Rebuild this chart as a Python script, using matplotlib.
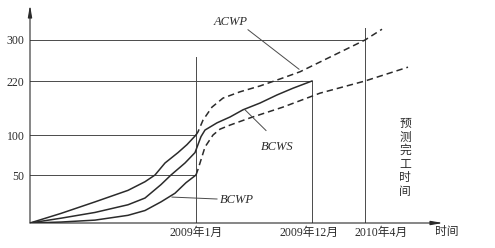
import numpy as np
import matplotlib
matplotlib.use("Agg")
import matplotlib.pyplot as plt

# ---------------- data (schematic S-curves) ----------------
# time axis in abstract units from project start
tick_times = [166, 282, 335]
tick_labels = ["2009年1月", "2009年12月", "2010年4月"]
y_ticks = [50, 100, 220, 300]

acwp_t = [0, 31, 65, 98, 115, 125, 135, 148, 157, 166]
acwp_v = [0, 10, 22, 34, 43, 50, 65, 78, 88, 100]
acwp_fc_t = [166, 168, 173, 182, 193, 210, 230, 253, 270, 335, 352]
acwp_fc_v = [100, 107, 133, 162, 182, 196, 209, 226, 238, 300, 321]

bcws_t = [0, 31, 65, 98, 115, 131, 141, 155, 165, 168, 171, 175, 187,
          200, 213, 230, 247, 263, 282]
bcws_v = [0, 5, 11, 19, 26, 40, 50, 65, 78, 88, 98, 111, 127,
          140, 156, 171, 189, 204, 220]

bcwp_t = [0, 31, 65, 98, 115, 131, 145, 156, 166]
bcwp_v = [0, 1, 3, 8, 13, 22, 31, 42, 50]
bcwp_fc_t = [166, 168, 170, 175, 183, 190, 200, 220, 253, 290, 335, 378]
bcwp_fc_v = [50, 57, 65, 85, 100, 113, 122, 138, 162, 193, 220, 247]

# ---------------- schematic (non-linear) value axis ----------------
V = np.array([-100, 0, 50, 100, 220, 300, 600])
H = np.array([-96, 0, 48, 88, 142, 183, 336.75])

def fwd(v):
    return np.interp(v, V, H)

def inv(h):
    return np.interp(h, H, V)

ink = "#2b2b2b"
grid = "#4a4a4a"
serif = ["Liberation Serif", "Noto Sans CJK SC"]
cjk = ["Noto Sans CJK SC", "DejaVu Sans"]

fig = plt.figure(figsize=(4.95, 2.48), dpi=100)
ax = fig.add_axes([30 / 495, 25 / 248, 413 / 495, 218 / 248])
ax.set_yscale("function", functions=(fwd, inv))
ax.set_xlim(0, 413)
ytop = float(inv(218))
ax.set_ylim(0, ytop)
for s in ax.spines.values():
    s.set_visible(False)

# axes with arrows
ax.annotate("", xy=(1, 0), xytext=(0, 0), xycoords="axes fraction",
            arrowprops=dict(arrowstyle="-|>,head_length=0.7,head_width=0.12",
                            lw=0.8, color=ink, shrinkA=0, shrinkB=0))
ax.annotate("", xy=(0, 1), xytext=(0, 0), xycoords="axes fraction",
            arrowprops=dict(arrowstyle="-|>,head_length=0.7,head_width=0.12",
                            lw=0.8, color=ink, shrinkA=0, shrinkB=0))

# reference lines
glw = 0.7
ax.plot([0, tick_times[2]], [y_ticks[3]] * 2, color=grid, lw=glw)
ax.plot([0, tick_times[1]], [y_ticks[2]] * 2, color=grid, lw=glw)
ax.plot([0, tick_times[0]], [y_ticks[1]] * 2, color=grid, lw=glw)
ax.plot([0, tick_times[0]], [y_ticks[0]] * 2, color=grid, lw=glw)
ax.plot([tick_times[0]] * 2, [0, 267], color=grid, lw=glw)
ax.plot([tick_times[1]] * 2, [0, y_ticks[2]], color=grid, lw=glw)
ax.plot([tick_times[2]] * 2, [0, 323], color=grid, lw=glw)

# curves
clw = 1.1
dash = (0, (4.2, 2.6))
kw = dict(color=ink, lw=clw, solid_joinstyle="round", dash_joinstyle="round")
ax.plot(acwp_t, acwp_v, **kw)
ax.plot(acwp_fc_t, acwp_fc_v, linestyle=dash, **kw)
ax.plot(bcws_t, bcws_v, **kw)
ax.plot(bcwp_t, bcwp_v, **kw)
ax.plot(bcwp_fc_t, bcwp_fc_v, linestyle=dash, **kw)

# curve labels with leader lines
llw = 0.7
ax.plot([218, 269], [320, 243], color=grid, lw=llw)
ax.text(201, 335, "ACWP", fontsize=9, style="italic", family=serif,
        color=ink, ha="center", va="center")
ax.plot([215, 236], [156, 110], color=grid, lw=llw)
ax.text(247, 85, "BCWS", fontsize=9, style="italic", family=serif,
        color=ink, ha="center", va="center")
ax.plot([142, 187], [27, 25], color=grid, lw=llw)
ax.text(207, 24, "BCWP", fontsize=9, style="italic", family=serif,
        color=ink, ha="center", va="center")

# vertical annotation
ax.text(375, 72, "\n".join("预测完工时间"), fontsize=8.5, family=cjk,
        color=ink, ha="center", va="center", linespacing=1.05)

# x labels (last one nudged right of its line, as in the original)
label_shift = [0, -3, 16]
for t, lab, dx in zip(tick_times, tick_labels, label_shift):
    ax.text(t + dx, -10, lab, family=serif, fontsize=8.5, color=ink,
            ha="center", va="center", clip_on=False)
ax.set_xticks([])
ax.set_yticks(y_ticks)
ax.set_yticklabels([str(v) for v in y_ticks], family=serif, fontsize=8.5, color=ink)
ax.tick_params(axis="both", length=0)
ax.tick_params(axis="y", pad=4)
ax.minorticks_off()

# axis label
ax.text(417, -9, "时间", fontsize=8.5, family=cjk, color=ink,
        ha="center", va="center", clip_on=False)

fig.savefig("out.png", dpi=100)
